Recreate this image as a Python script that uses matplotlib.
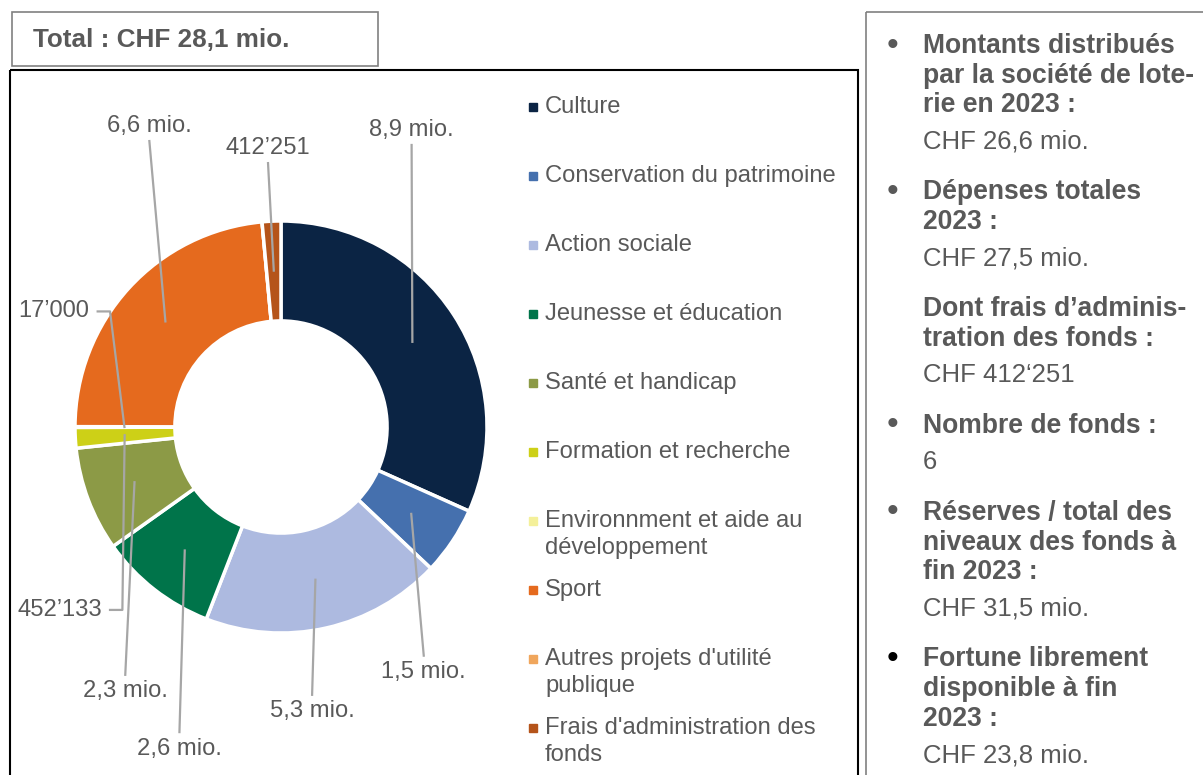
import numpy as np
import matplotlib.pyplot as plt
from matplotlib.patches import Rectangle

plt.rcParams['font.family'] = ['Liberation Sans', 'DejaVu Sans']

# Data (CHF mio.)
categories = ["Culture", "Conservation du patrimoine", "Action sociale",
              "Jeunesse et éducation", "Santé et handicap", "Formation et recherche",
              "Environnment et aide au\ndéveloppement", "Sport",
              "Autres projets d'utilité\npublique", "Frais d'administration des\nfonds"]
values_mio = [8.9, 1.5, 5.3, 2.6, 2.3, 0.452133, 0.017, 6.6, 0.0, 0.412251]
value_labels = ["8,9 mio.", "1,5 mio.", "5,3 mio.", "2,6 mio.", "2,3 mio.",
                "452’133", "17’000", "6,6 mio.", "", "412’251"]
colors = ["#0b2444", "#4570ae", "#adbae0", "#00744a", "#8c9a46",
          "#cdd017", "#f4f09a", "#e56a1e", "#f0a65c", "#b5541a"]
total_text = "Total : CHF 28,1 mio."

# right-hand info panel: (bullet, bold heading lines, value)
info_blocks = [
    ("gray", ["Montants distribués", "par la société de lote-", "rie en 2023 :"], "CHF 26,6 mio."),
    ("gray", ["Dépenses totales", "2023 :"], "CHF 27,5 mio."),
    (None, ["Dont frais d’adminis-", "tration des fonds :"], "CHF 412‘251"),
    ("gray", ["Nombre de fonds :"], "6"),
    ("gray", ["Réserves / total des", "niveaux des fonds à", "fin 2023 :"], "CHF 31,5 mio."),
    ("black", ["Fortune librement", "disponible à fin", "2023 :"], "CHF 23,8 mio."),
]

TXT = "#595959"
LEAD = "#a6a6a6"
W, H = 1203, 775

fig = plt.figure(figsize=(W / 100, H / 100), dpi=100)

# overlay in pixel coordinates for frames, legend and side panel
ov = fig.add_axes([0, 0, 1, 1])
ov.set_xlim(0, W)
ov.set_ylim(H, 0)
ov.axis('off')

ov.add_patch(Rectangle((12, 12), 366, 54, fill=False, ec="#808080", lw=1.2))
ov.text(33, 40, total_text, fontsize=18.8, fontweight='bold', color=TXT, va='center')
ov.add_patch(Rectangle((10, 70), 848, 720, fill=False, ec="black", lw=1.5))
ov.add_patch(Rectangle((866, 12), 360, 800, fill=False, ec="#808080", lw=1.2))

# legend
for i, (cat, col) in enumerate(zip(categories, colors)):
    y = 107 + 69 * i
    ov.add_patch(Rectangle((529, y - 4), 8, 8, color=col))
    for k, line in enumerate(cat.split("\n")):
        ov.text(545, y + 27 * k, line, fontsize=17.1, color=TXT, va='center')

# side panel
y = 46
for bullet, heads, val in info_blocks:
    if bullet:
        ov.text(893, y, "•", fontsize=24, color=TXT if bullet == "gray" else "black",
                va='center', ha='center')
    for line in heads:
        ov.text(923, y, line, fontsize=19.1, fontweight='bold', color=TXT, va='center')
        y += 29.7
    y += 36.5 - 29.7
    ov.text(923, y, val, fontsize=18.5, color=TXT, va='center')
    y += 50.5

# donut
cx, cy, R = 281, 427, 206
ax = fig.add_axes([(cx - R) / W, (H - cy - R) / H, 2 * R / W, 2 * R / H])
wedges, _ = ax.pie(values_mio, colors=colors, startangle=90, counterclock=False,
                   radius=1, wedgeprops=dict(width=0.485, edgecolor='white', linewidth=2.5))
ax.set_xlim(-1, 1)
ax.set_ylim(-1, 1)
ax.axis('off')

# label positions in pie units: (x, y, style)
label_pos = [(0.634, 1.444, 'top'), (0.693, -1.190, 'bottom'), (0.151, -1.380, 'bottom'),
             (-0.493, -1.561, 'bottom'), (-0.756, -1.283, 'bottom'), (-0.87, -0.888, 'side'),
             (-0.93, 0.561, 'side'), (-0.639, 1.463, 'top'), None, (-0.063, 1.356, 'top')]

r_anchor = 0.76
for w, lab, pos in zip(wedges, value_labels, label_pos):
    if pos is None or not lab:
        continue
    mid = np.deg2rad((w.theta1 + w.theta2) / 2)
    ax_x, ax_y = r_anchor * np.cos(mid), r_anchor * np.sin(mid)
    tx, ty, style = pos
    if style == 'side':
        ax.text(tx, ty, lab, fontsize=17.1, color=TXT, ha='right', va='center', clip_on=False)
        xs = [tx + 0.04, tx + 0.1, ax_x]
        ys = [ty, ty, ax_y]
    else:
        ax.text(tx, ty, lab, fontsize=17.1, color=TXT, ha='center', va='center', clip_on=False)
        off = -0.075 if style == 'top' else 0.08
        xs = [tx, ax_x]
        ys = [ty + off, ax_y]
    ax.plot(xs, ys, color=LEAD, lw=1.6, clip_on=False)

fig.savefig("out.png", dpi=100)
